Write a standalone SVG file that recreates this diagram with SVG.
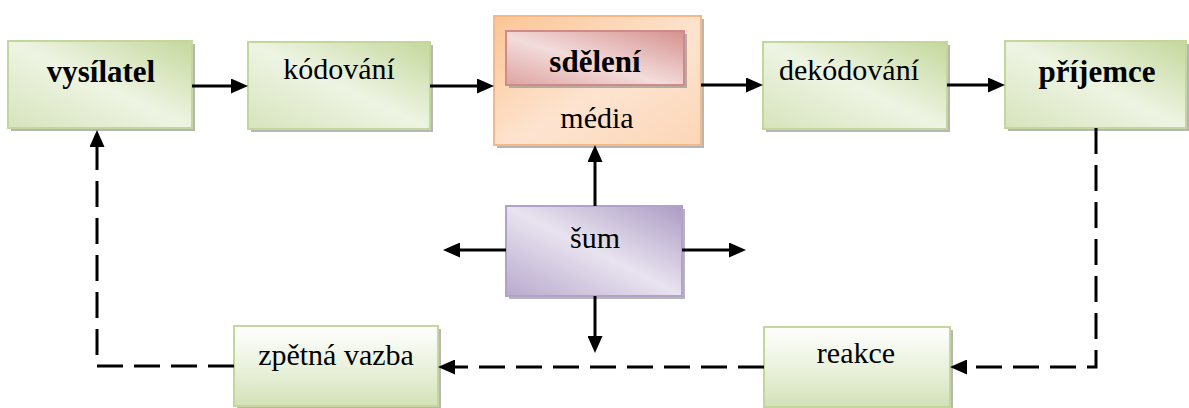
<svg xmlns="http://www.w3.org/2000/svg" width="1189" height="408" viewBox="0 0 1189 408">
  <defs>
    <linearGradient id="gGreen" x1="1" y1="0" x2="0" y2="1">
      <stop offset="0" stop-color="#c4d89c"/>
      <stop offset="0.5" stop-color="#eef4e3"/>
      <stop offset="1" stop-color="#d6e4bc"/>
    </linearGradient>
    <linearGradient id="gGreenV" x1="0" y1="0" x2="0" y2="1">
      <stop offset="0" stop-color="#ffffff"/>
      <stop offset="0.6" stop-color="#e6efd6"/>
      <stop offset="1" stop-color="#d3e2b8"/>
    </linearGradient>
    <linearGradient id="gOrange" x1="0" y1="0" x2="1" y2="1">
      <stop offset="0" stop-color="#fbc594"/>
      <stop offset="0.55" stop-color="#fde4d0"/>
      <stop offset="1" stop-color="#fcd6b6"/>
    </linearGradient>
    <linearGradient id="gRed" x1="1" y1="0" x2="0" y2="1">
      <stop offset="0" stop-color="#d6918f"/>
      <stop offset="0.55" stop-color="#f2dcdb"/>
      <stop offset="1" stop-color="#dea3a1"/>
    </linearGradient>
    <linearGradient id="gPurple" x1="1" y1="0" x2="0" y2="1">
      <stop offset="0" stop-color="#ad9cc4"/>
      <stop offset="0.5" stop-color="#e8e3ef"/>
      <stop offset="1" stop-color="#b9aacd"/>
    </linearGradient>
    <marker id="arrow" viewBox="0 0 17 15" markerWidth="17" markerHeight="15" refX="9" refY="7.5" orient="auto" markerUnits="userSpaceOnUse">
      <path d="M0,0 L17,7.5 L0,15 z" fill="#000"/>
    </marker>
  </defs>
  <style>
    .shadow { fill: #8f8f8f; opacity: 0.65; }
    .green { fill: url(#gGreen); stroke: #c3d69b; stroke-width: 2; }
    .greenV { fill: url(#gGreenV); stroke: #c3d69b; stroke-width: 2; }
    .orange { fill: url(#gOrange); stroke: #f5b887; stroke-width: 2; }
    .red { fill: url(#gRed); stroke: #d08a88; stroke-width: 2; }
    .purple { fill: url(#gPurple); stroke: #b3a2c7; stroke-width: 2; }
    text { font-family: 'Liberation Serif', 'Times New Roman', serif; font-size: 30px; fill: #000; text-anchor: middle; }
    .b { font-weight: bold; font-size: 31px; }
    .line { fill: none; stroke: #000; stroke-width: 3; marker-end: url(#arrow); }
    .dash { stroke-dasharray: 26 11; }
  </style>

  <g id="vysilatel">
    <rect class="shadow" x="11" y="44" width="184" height="87"/>
    <rect class="green" x="8" y="41" width="184" height="87"/>
    <text class="b" x="101" y="82">vysílatel</text>
  </g>

  <g id="kodovani">
    <rect class="shadow" x="251" y="45" width="182" height="87"/>
    <rect class="green" x="248" y="42" width="182" height="87"/>
    <text x="339" y="79">kódování</text>
  </g>

  <g id="media">
    <rect class="shadow" x="497" y="19" width="207" height="129"/>
    <rect class="orange" x="494" y="16" width="207" height="129"/>
    <text x="597" y="128">média</text>
  </g>

  <g id="sdeleni">
    <rect class="shadow" x="509" y="34" width="178" height="54"/>
    <rect class="red" x="506" y="31" width="178" height="54"/>
    <text class="b" x="595" y="72">sdělení</text>
  </g>

  <g id="dekodovani">
    <rect class="shadow" x="766" y="45" width="184" height="87"/>
    <rect class="green" x="763" y="42" width="184" height="87"/>
    <text x="849" y="80">dekódování</text>
  </g>

  <g id="prijemce">
    <rect class="shadow" x="1008" y="44" width="181" height="87"/>
    <rect class="green" x="1005" y="41" width="181" height="87"/>
    <text class="b" x="1097" y="82">příjemce</text>
  </g>

  <g id="sum">
    <rect class="shadow" x="509" y="209" width="176" height="90"/>
    <rect class="purple" x="506" y="206" width="176" height="90"/>
    <text x="595" y="248">šum</text>
  </g>

  <g id="reakce">
    <rect class="shadow" x="767" y="330" width="186" height="80"/>
    <rect class="greenV" x="764" y="327" width="186" height="80"/>
    <text x="856" y="363">reakce</text>
  </g>

  <g id="zpetna-vazba">
    <rect class="shadow" x="237" y="329" width="204" height="80"/>
    <rect class="greenV" x="234" y="326" width="204" height="80"/>
    <text x="336" y="365">zpětná vazba</text>
  </g>

  <g id="connectors">
    <!-- main flow -->
    <path class="line" d="M192,86 H240"/>
    <path class="line" d="M430,86 H486"/>
    <path class="line" d="M701,85 H755"/>
    <path class="line" d="M947,85 H997"/>
    <!-- noise -->
    <path class="line" d="M595,206 V153"/>
    <path class="line" d="M506,250 H451"/>
    <path class="line" d="M682,250 H738"/>
    <path class="line" d="M595,296 V345"/>
    <!-- feedback loop -->
    <path class="line dash" d="M1096,128 V367 H958"/>
    <path class="line dash" d="M764,367 H446"/>
    <path class="line dash" d="M234,366 H97 V138"/>
  </g>
</svg>
